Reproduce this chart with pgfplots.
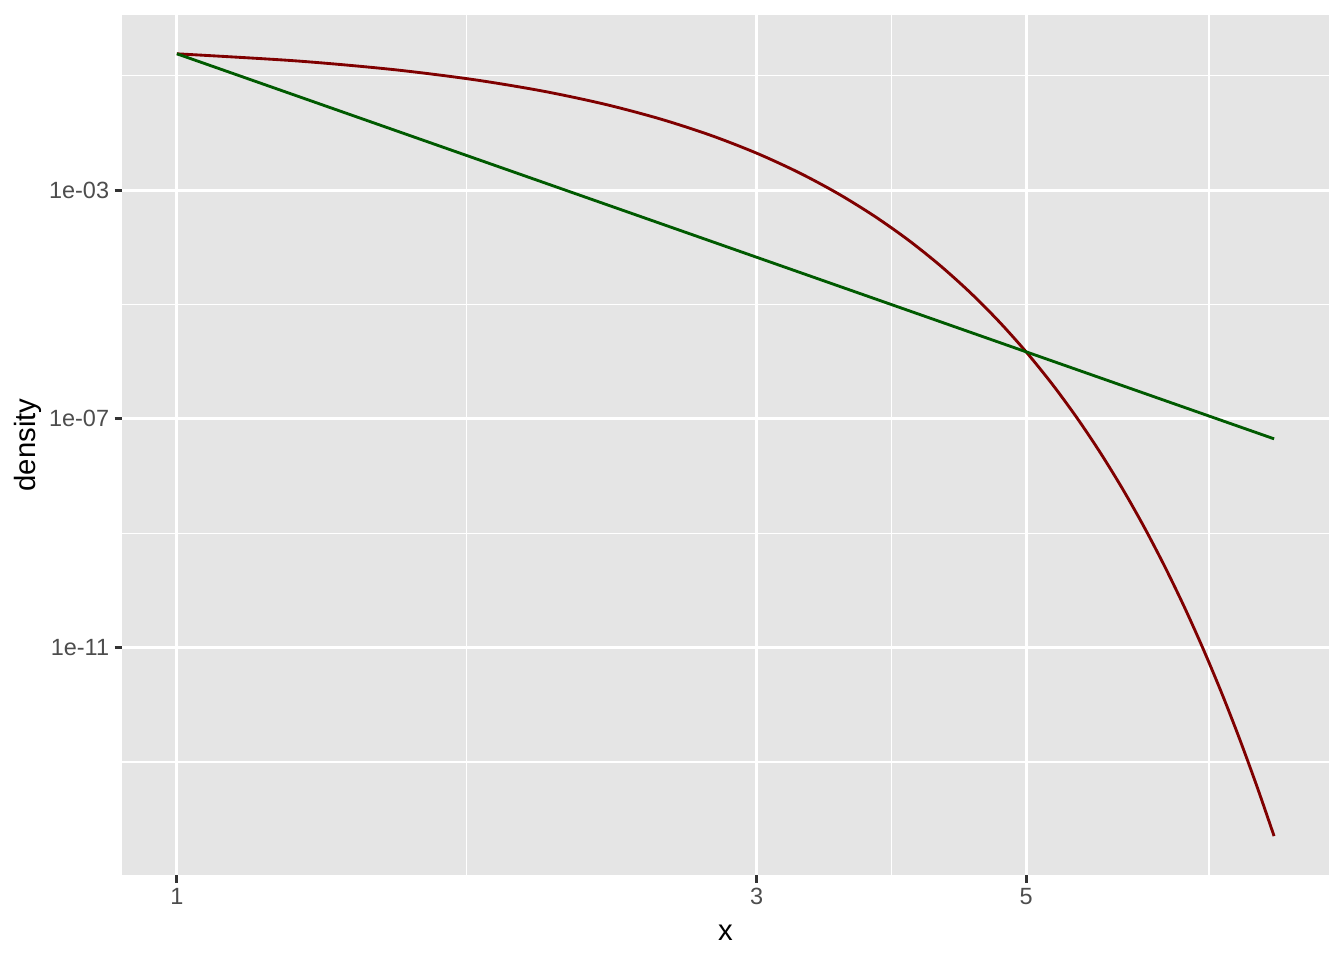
\documentclass[border=0pt]{standalone}
\usepackage{pgfplots}
\pgfplotsset{compat=1.18}
\usepackage{fontspec}
\setmainfont{Liberation Sans}
\definecolor{panelbg}{HTML}{E5E5E5}
\definecolor{ticktext}{HTML}{4D4D4D}
\definecolor{tickcol}{HTML}{333333}
\definecolor{cred}{HTML}{7F0000}
\definecolor{cgreen}{HTML}{005A00}
\begin{document}
\begin{tikzpicture}
\path[use as bounding box, fill=white] (0,0) rectangle (504pt,360pt);
\begin{axis}[
  at={(45.75pt,31.8pt)}, anchor=south west,
  scale only axis, width=452.6pt, height=322.7pt,
  xmode=log, ymode=log,
  xmin=0.90125, xmax=8.8766,
  ymin=1.046e-15, ymax=1.169,
  axis background/.style={fill=panelbg},
  axis line style={draw=none},
  xtick={1,3,5}, xticklabels={1,3,5},
  ytick={1e-3,1e-7,1e-11}, yticklabels={1e-03,1e-07,1e-11},
  minor xtick={1.7320508,3.8729833,7.0710678},
  minor ytick={1e-1,1e-5,1e-9,1e-13},
  grid=both,
  major grid style={white, line width=1.07pt},
  minor grid style={white, line width=0.53pt},
  tick align=outside, tick pos=left,
  major tick length=2.75pt, minor tick length=0pt,
  major tick style={tickcol, line width=1.07pt},
  tick label style={font=\fontsize{8.8}{10}\selectfont, text=ticktext, inner sep=0pt},
  xticklabel style={anchor=north, yshift=-1.9pt},
  yticklabel style={anchor=east, xshift=-1.9pt},
  log ticks with fixed point=false,
  xlabel={x}, ylabel={density},
  label style={font=\fontsize{11}{13}\selectfont, text=black, inner sep=0pt},
  xlabel style={at={(axis description cs:0.5,0)}, anchor=north, yshift=-18.6pt},
  ylabel style={at={(axis description cs:-0.0783,0.5)}, anchor=center},
  clip=false,
]
\addplot[cred, line width=1.07pt, smooth] coordinates {
(1,2.4197e-1) (1.25,1.8265e-1) (1.5,1.2952e-1) (1.75,8.628e-2) (2,5.399e-2)
(2.25,3.174e-2) (2.5,1.753e-2) (2.75,9.094e-3) (3,4.432e-3) (3.25,2.029e-3)
(3.5,8.727e-4) (3.75,3.526e-4) (4,1.338e-4) (4.25,4.772e-5) (4.5,1.598e-5)
(4.75,5.029e-6) (5,1.487e-6) (5.25,4.129e-7) (5.5,1.077e-7) (5.75,2.639e-8)
(6,6.076e-9) (6.25,1.314e-9) (6.5,2.670e-10) (6.75,5.095e-11) (7,9.136e-12)
(7.25,1.539e-12) (7.5,2.434e-13) (7.75,3.618e-14) (8,5.052e-15)
};
\addplot[cgreen, line width=1.07pt] coordinates {
(1,2.4197e-1) (2,1.379e-3) (3,6.705e-5) (4,7.849e-6) (5,1.487e-6)
(6,3.818e-7) (7,1.210e-7) (8,4.471e-8)
};
\end{axis}
\end{tikzpicture}
\end{document}
